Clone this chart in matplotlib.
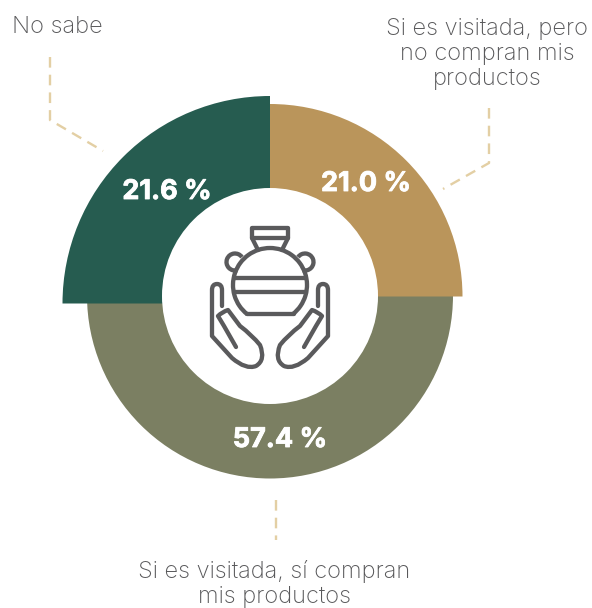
import matplotlib
matplotlib.use('Agg')
import matplotlib.pyplot as plt
import matplotlib.patheffects as pe
from matplotlib.patches import Wedge, Circle, PathPatch, Arc
from matplotlib.path import Path

# datos
categorias = ['Si es visitada, pero\nno compran mis\nproductos',
              'Si es visitada, sí compran\nmis productos',
              'No sabe']
porcentajes = [21.0, 57.4, 21.6]
angulos_ini = [0, 180, 90]
angulos_fin = [90, 360, 180]
radios = [192.5, 183, 207.5]
centros_y = [296.5, 295.5, 303.5]
colores = ['#BA955B', '#7B7F62', '#265C50']
pct_pos = [(366, 184), (280, 440), (167, 192)]
cat_pos = [(487, 54), (274, 584), (57, 27)]
guias = [[(489, 108), (489, 163), (443, 189)],
         [(276, 500), (276, 540)],
         [(50, 57), (50, 120), (103, 151)]]

H = 608
fig = plt.figure(figsize=(5.92, 6.08), dpi=100)
ax = fig.add_axes([0, 0, 1, 1])
ax.set_xlim(0, 592)
ax.set_ylim(0, H)
ax.axis('off')

CX = 270
# orden: oliva abajo, luego tan y verde encima
for i in [1, 0, 2]:
    ax.add_patch(Wedge((CX, H - centros_y[i]), radios[i], angulos_ini[i], angulos_fin[i],
                       facecolor=colores[i], edgecolor='none', zorder=2))
ax.add_patch(Circle((CX, H - 296), 108, facecolor='white', edgecolor='none', zorder=3))

# lineas punteadas
for g in guias:
    ax.plot([p[0] for p in g], [H - p[1] for p in g], color='#E3CFA4', lw=1.7,
            dashes=(4.5, 3), zorder=1)

# textos
for i in range(3):
    ax.text(pct_pos[i][0], H - pct_pos[i][1], f'{porcentajes[i]} %', color='white', fontsize=19.5,
            fontweight='bold', family='Inter', ha='center', va='center', zorder=5,
            path_effects=[pe.withStroke(linewidth=0.6, foreground='white')])
    ax.text(cat_pos[i][0], H - cat_pos[i][1], categorias[i], color='#58585A', fontsize=17,
            fontweight='light', family='Inter', ha='center', va='center',
            linespacing=1.2, zorder=5)


# icono: coordenadas en pixeles de la imagen
ICONO = '#5A5A5C'
LW = 3.1


def trazo(puntos, codigos=None):
    pts = [(x, H - y) for x, y in puntos]
    if codigos is None:
        codigos = [Path.MOVETO] + [Path.LINETO] * (len(pts) - 1)
    ax.add_patch(PathPatch(Path(pts, codigos), facecolor='none', edgecolor=ICONO, lw=LW,
                           capstyle='round', joinstyle='round', zorder=6))


M, L, C = Path.MOVETO, Path.LINETO, Path.CURVE3

# cuello de la vasija
trazo([(258, 250), (252, 238), (252, 228), (288, 228), (288, 238), (282, 250)])
trazo([(252, 238), (288, 238)])
# cuerpo
ax.add_patch(Arc((270, H - 285), 74, 74, theta1=-52, theta2=232, edgecolor=ICONO, lw=LW, zorder=6))
trazo([(247, 314), (294, 314)])
trazo([(234, 278), (306, 278)])
trazo([(234, 292), (306, 292)])
# asas
ax.add_patch(Arc((235, H - 262), 17, 17, theta1=35, theta2=285, edgecolor=ICONO, lw=LW, zorder=6))
ax.add_patch(Arc((305, H - 262), 17, 17, theta1=-105, theta2=145, edgecolor=ICONO, lw=LW, zorder=6))

# manos (la derecha es espejo de la izquierda)
mano = [(222, 306), (222, 290), (222, 284), (217, 284), (212, 284), (212, 290),
        (212, 336), (232, 358), (246, 370), (256, 366), (266, 360), (260, 345),
        (252, 335), (240, 326), (228, 310), (222, 312), (218, 316), (224, 326), (236, 347)]
cods = [M, L, C, C, C, C, L, L, C, C, C, C, C, C, L, C, C, L, L]
trazo(mano, cods)
trazo([(540 - x, y) for x, y in mano], cods)

fig.savefig('out.png', dpi=100, facecolor='white')
